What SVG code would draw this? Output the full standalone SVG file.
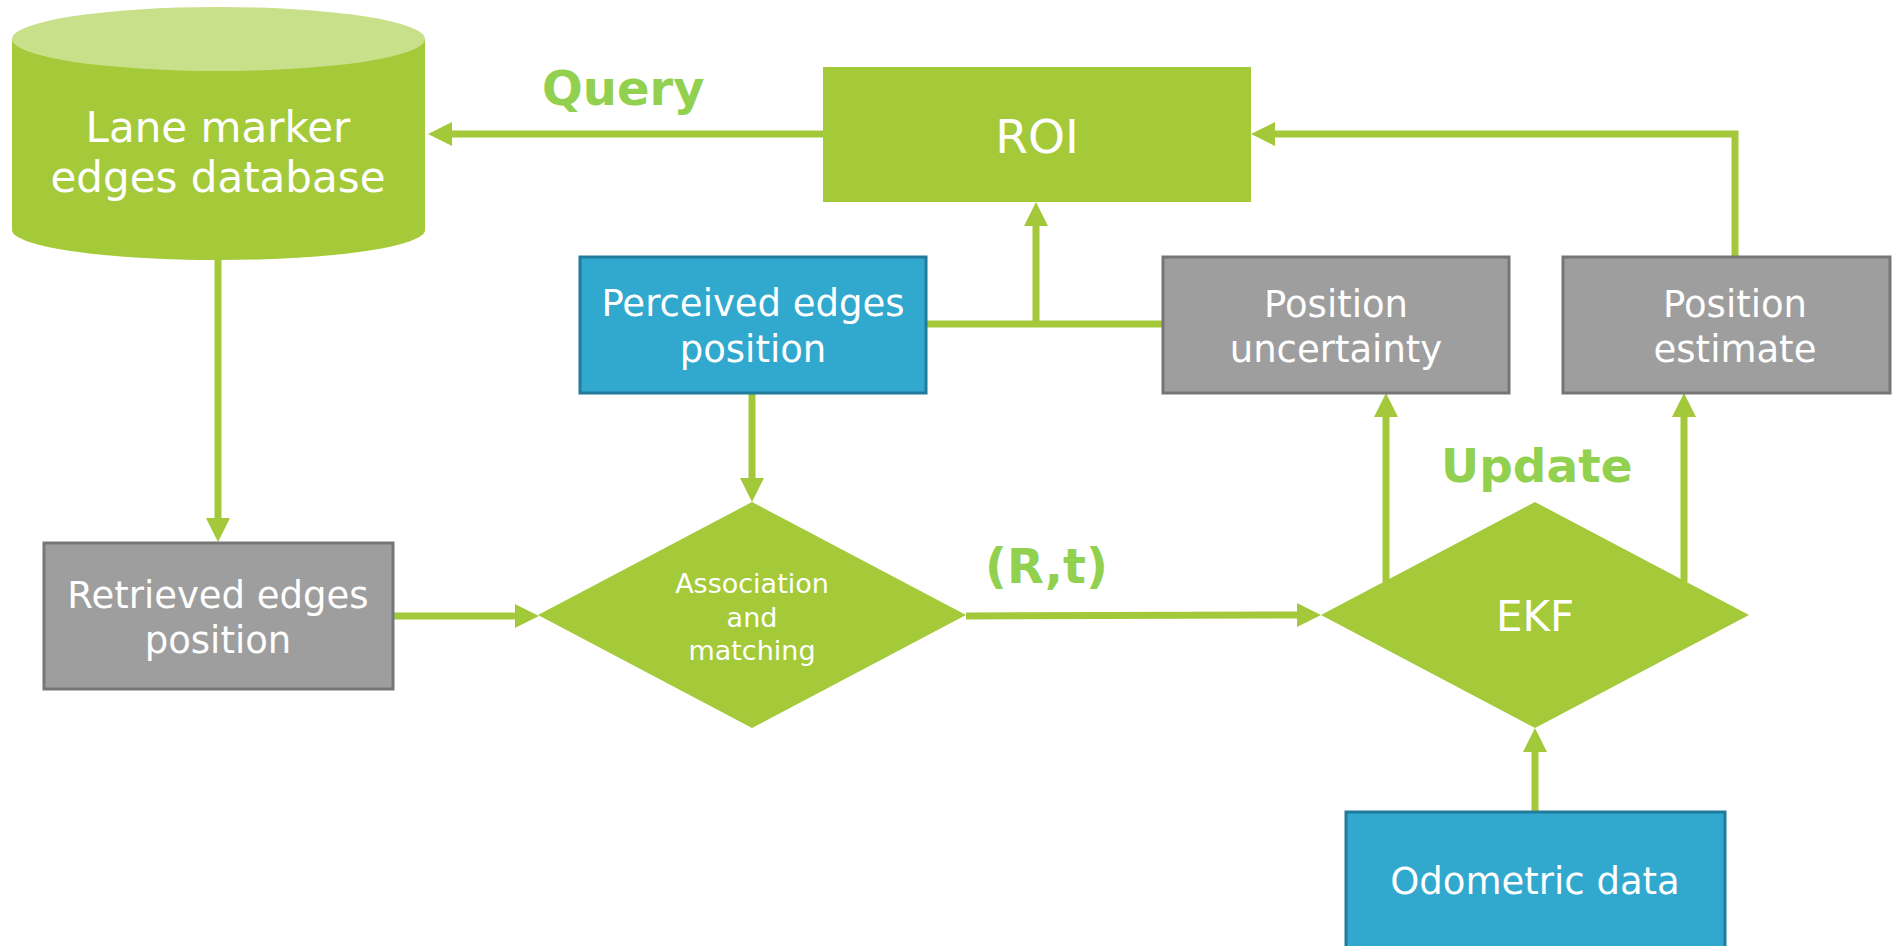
<svg xmlns="http://www.w3.org/2000/svg" width="1893" height="946" viewBox="0 0 1893 946">
<style>
.t{font-family:"DejaVu Sans",Verdana,sans-serif;fill:#fff;text-anchor:middle}
.lbl{font-family:"DejaVu Sans",Verdana,sans-serif;font-weight:bold;fill:#92D050}
.c{fill:none;stroke:#A3C93A;stroke-width:7}
.gray{fill:#9E9E9E;stroke:#767676;stroke-width:3}
.blue{fill:#31A9CF;stroke:#237B9B;stroke-width:3}
.green{fill:#A4CA3A}
</style>
<defs>
<marker id="ah" markerUnits="userSpaceOnUse" markerWidth="24" markerHeight="24" refX="0" refY="12" orient="auto">
<path d="M0,0 L24,12 L0,24 z" fill="#A3C93A"/>
</marker>
</defs>
<rect width="1893" height="946" fill="#fff"/>

<g id="connectors">
<path class="c" d="M823,134 L452,134" marker-end="url(#ah)"/>
<path class="c" d="M218,260 L218,518" marker-end="url(#ah)"/>
<path class="c" d="M393,616 L515,616" marker-end="url(#ah)"/>
<path class="c" d="M752,393 L752,478" marker-end="url(#ah)"/>
<path class="c" d="M926,324 L1162,324"/>
<path class="c" d="M1036,324 L1036,226" marker-end="url(#ah)"/>
<path class="c" d="M966,616 L1297,615" marker-end="url(#ah)"/>
<path class="c" d="M1386,582 L1386,417" marker-end="url(#ah)"/>
<path class="c" d="M1684,582 L1684,417" marker-end="url(#ah)"/>
<path class="c" d="M1735,256 L1735,134 L1275,134" marker-end="url(#ah)"/>
<path class="c" d="M1535,811 L1535,752" marker-end="url(#ah)"/>
</g>

<g id="database">
<path class="green" d="M12,39 L12,230 A206.5,30 0 0 0 425,230 L425,39 z"/>
<ellipse cx="218.5" cy="39" rx="206.5" ry="32" fill="#C9E08B"/>
<text class="t" x="218" y="142" font-size="42">Lane marker</text>
<text class="t" x="218" y="192" font-size="42">edges database</text>
</g>

<g id="roi">
<rect class="green" x="823" y="67" width="428" height="135"/>
<text class="t" x="1037" y="153" font-size="47">ROI</text>
</g>

<g id="perceived">
<rect class="blue" x="580" y="257" width="346" height="136"/>
<text class="t" x="753" y="316" font-size="37">Perceived edges</text>
<text class="t" x="753" y="362" font-size="37">position</text>
</g>

<g id="uncertainty">
<rect class="gray" x="1163" y="257" width="346" height="136"/>
<text class="t" x="1336" y="317" font-size="37">Position</text>
<text class="t" x="1336" y="362" font-size="37">uncertainty</text>
</g>

<g id="estimate">
<rect class="gray" x="1563" y="257" width="327" height="136"/>
<text class="t" x="1735" y="317" font-size="37">Position</text>
<text class="t" x="1735" y="362" font-size="37">estimate</text>
</g>

<g id="retrieved">
<rect class="gray" x="44" y="543" width="349" height="146"/>
<text class="t" x="218" y="608" font-size="37">Retrieved edges</text>
<text class="t" x="218" y="653" font-size="37">position</text>
</g>

<g id="association">
<polygon class="green" points="538,615 752,502 966,615 752,728"/>
<text class="t" x="752" y="593" font-size="27">Association</text>
<text class="t" x="752" y="627" font-size="27">and</text>
<text class="t" x="752" y="660" font-size="27">matching</text>
</g>

<g id="ekf">
<polygon class="green" points="1321,615 1535,502 1749,615 1535,728"/>
<text class="t" x="1535" y="631" font-size="42">EKF</text>
</g>

<g id="odometric">
<rect class="blue" x="1346" y="812" width="379" height="150"/>
<text class="t" x="1535" y="894" font-size="37">Odometric data</text>
</g>

<g id="labels">
<text class="lbl" x="542" y="105" font-size="48">Query</text>
<text class="lbl" x="985" y="583" font-size="48">(R,t)</text>
<text class="lbl" x="1441" y="482" font-size="47">Update</text>
</g>
</svg>
